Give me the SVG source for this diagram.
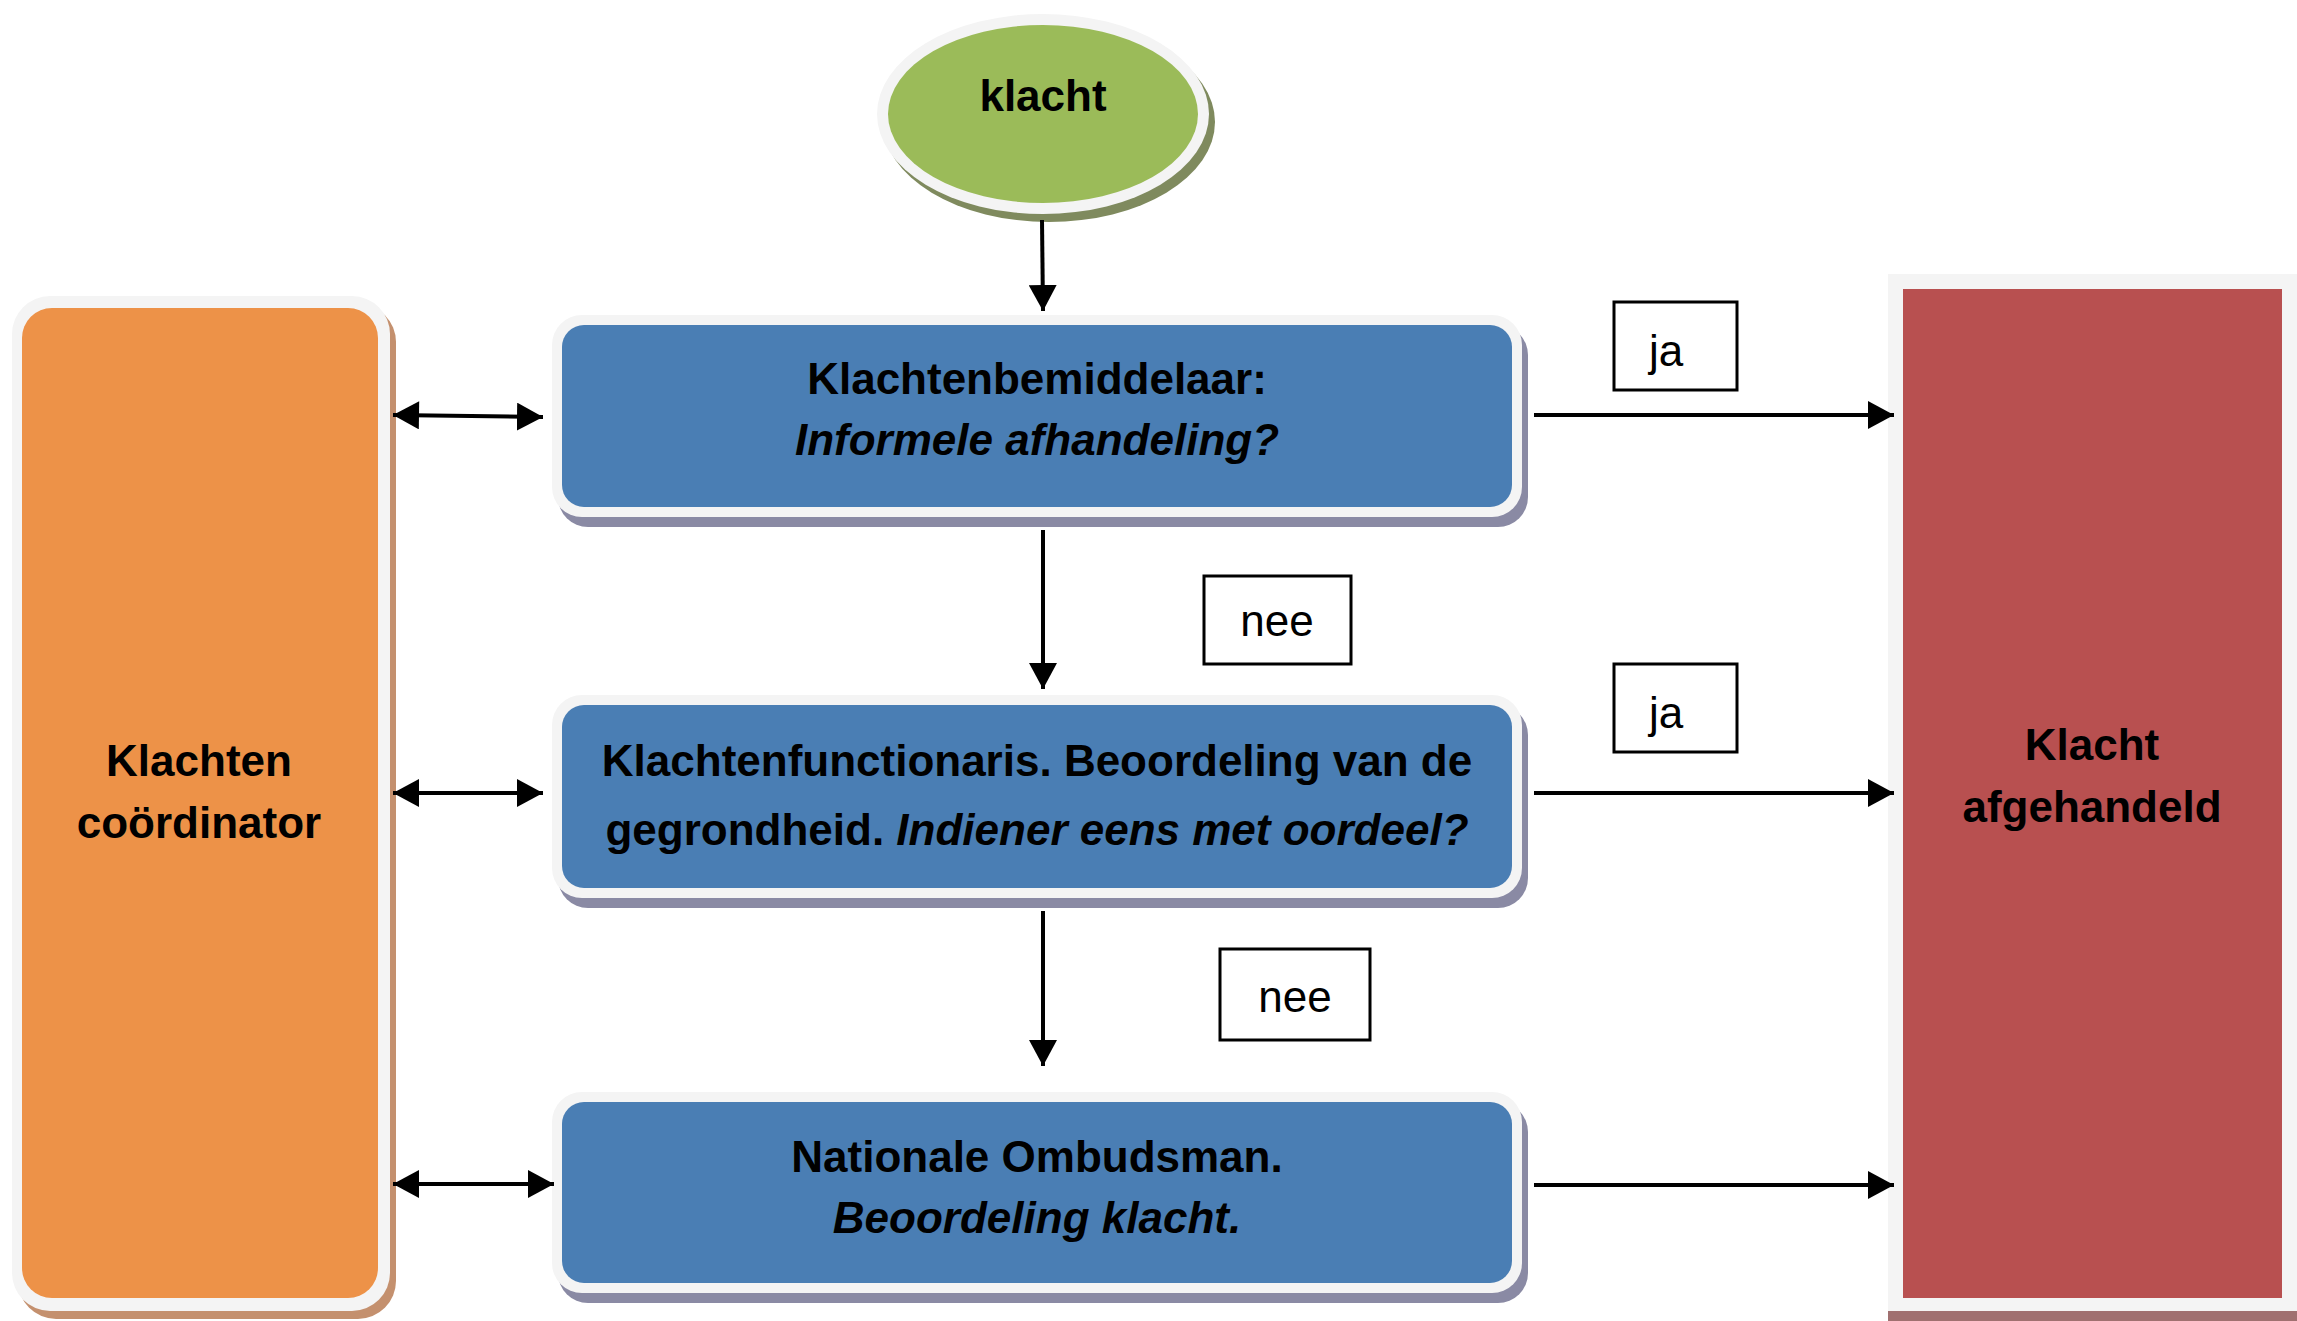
<svg xmlns="http://www.w3.org/2000/svg" width="2297" height="1321" viewBox="0 0 2297 1321">
<style>
.t{font-family:"Liberation Sans",Arial,sans-serif;font-size:44px;font-weight:bold;fill:#000;text-anchor:middle}
.i{font-style:italic}
.r{font-weight:normal}
.ln{stroke:#000;stroke-width:4;fill:none}
.lb{fill:#fff;stroke:#000;stroke-width:3}
.rim{fill:#f4f4f4}
</style>
<defs>
<marker id="ae" markerUnits="userSpaceOnUse" markerWidth="28" markerHeight="28" refX="26" refY="14" orient="auto"><path d="M0,0 L26,14 L0,28 Z" fill="#000"/></marker>
<marker id="as" markerUnits="userSpaceOnUse" markerWidth="28" markerHeight="28" refX="0" refY="14" orient="auto"><path d="M26,0 L0,14 L26,28 Z" fill="#000"/></marker>
</defs>
<rect width="2297" height="1321" fill="#fff"/>

<g id="klacht">
<ellipse cx="1049" cy="122" rx="166" ry="100" fill="#7f8a5e"/>
<ellipse cx="1043" cy="114" rx="166" ry="100" class="rim"/>
<ellipse cx="1043" cy="114" rx="155" ry="89" fill="#9bbb59"/>
<text class="t" x="1043" y="111">klacht</text>
</g>

<g id="coordinator">
<rect x="18" y="304" width="378" height="1015" rx="38" fill="#c4906e"/>
<rect x="12" y="296" width="378" height="1015" rx="38" class="rim"/>
<rect x="22" y="308" width="356" height="990" rx="30" fill="#ed9248"/>
<text class="t" x="199" y="776">Klachten</text>
<text class="t" x="199" y="838">coördinator</text>
</g>

<g id="bemiddelaar">
<rect x="558" y="325" width="970" height="202" rx="30" fill="#8a8aa4"/>
<rect x="552" y="315" width="970" height="202" rx="30" class="rim"/>
<rect x="562" y="325" width="950" height="182" rx="22" fill="#4a7eb4"/>
<text class="t" x="1037" y="394">Klachtenbemiddelaar:</text>
<text class="t i" x="1037" y="455">Informele afhandeling?</text>
</g>

<g id="functionaris">
<rect x="558" y="705" width="970" height="203" rx="30" fill="#8a8aa4"/>
<rect x="552" y="695" width="970" height="203" rx="30" class="rim"/>
<rect x="562" y="705" width="950" height="183" rx="22" fill="#4a7eb4"/>
<text class="t" x="1037" y="776">Klachtenfunctionaris. Beoordeling van de</text>
<text class="t" x="1037" y="845">gegrondheid. <tspan class="i">Indiener eens met oordeel?</tspan></text>
</g>

<g id="ombudsman">
<rect x="558" y="1102" width="970" height="201" rx="30" fill="#8a8aa4"/>
<rect x="552" y="1092" width="970" height="201" rx="30" class="rim"/>
<rect x="562" y="1102" width="950" height="181" rx="22" fill="#4a7eb4"/>
<text class="t" x="1037" y="1172">Nationale Ombudsman.</text>
<text class="t i" x="1037" y="1233">Beoordeling klacht.</text>
</g>

<g id="afgehandeld">
<rect x="1888" y="286" width="409" height="1035" fill="#a07070"/>
<rect x="1888" y="274" width="409" height="1037" class="rim"/>
<rect x="1903" y="289" width="379" height="1009" fill="#b85050"/>
<text class="t" x="2092" y="760">Klacht</text>
<text class="t" x="2092" y="822">afgehandeld</text>
</g>

<g id="connectors">
<line class="ln" x1="1042" y1="220" x2="1043" y2="311" marker-end="url(#ae)"/>
<line class="ln" x1="1043" y1="530" x2="1043" y2="689" marker-end="url(#ae)"/>
<line class="ln" x1="1043" y1="911" x2="1043" y2="1066" marker-end="url(#ae)"/>
<line class="ln" x1="393" y1="415" x2="543" y2="417" marker-start="url(#as)" marker-end="url(#ae)"/>
<line class="ln" x1="393" y1="793" x2="543" y2="793" marker-start="url(#as)" marker-end="url(#ae)"/>
<line class="ln" x1="393" y1="1184" x2="554" y2="1184" marker-start="url(#as)" marker-end="url(#ae)"/>
<line class="ln" x1="1534" y1="415" x2="1894" y2="415" marker-end="url(#ae)"/>
<line class="ln" x1="1534" y1="793" x2="1894" y2="793" marker-end="url(#ae)"/>
<line class="ln" x1="1534" y1="1185" x2="1894" y2="1185" marker-end="url(#ae)"/>
</g>

<g id="labels">
<rect class="lb" x="1614" y="302" width="123" height="88"/>
<text class="t r" x="1666" y="366">ja</text>
<rect class="lb" x="1614" y="664" width="123" height="88"/>
<text class="t r" x="1666" y="728">ja</text>
<rect class="lb" x="1204" y="576" width="147" height="88"/>
<text class="t r" x="1277" y="636">nee</text>
<rect class="lb" x="1220" y="949" width="150" height="91"/>
<text class="t r" x="1295" y="1012">nee</text>
</g>
</svg>
